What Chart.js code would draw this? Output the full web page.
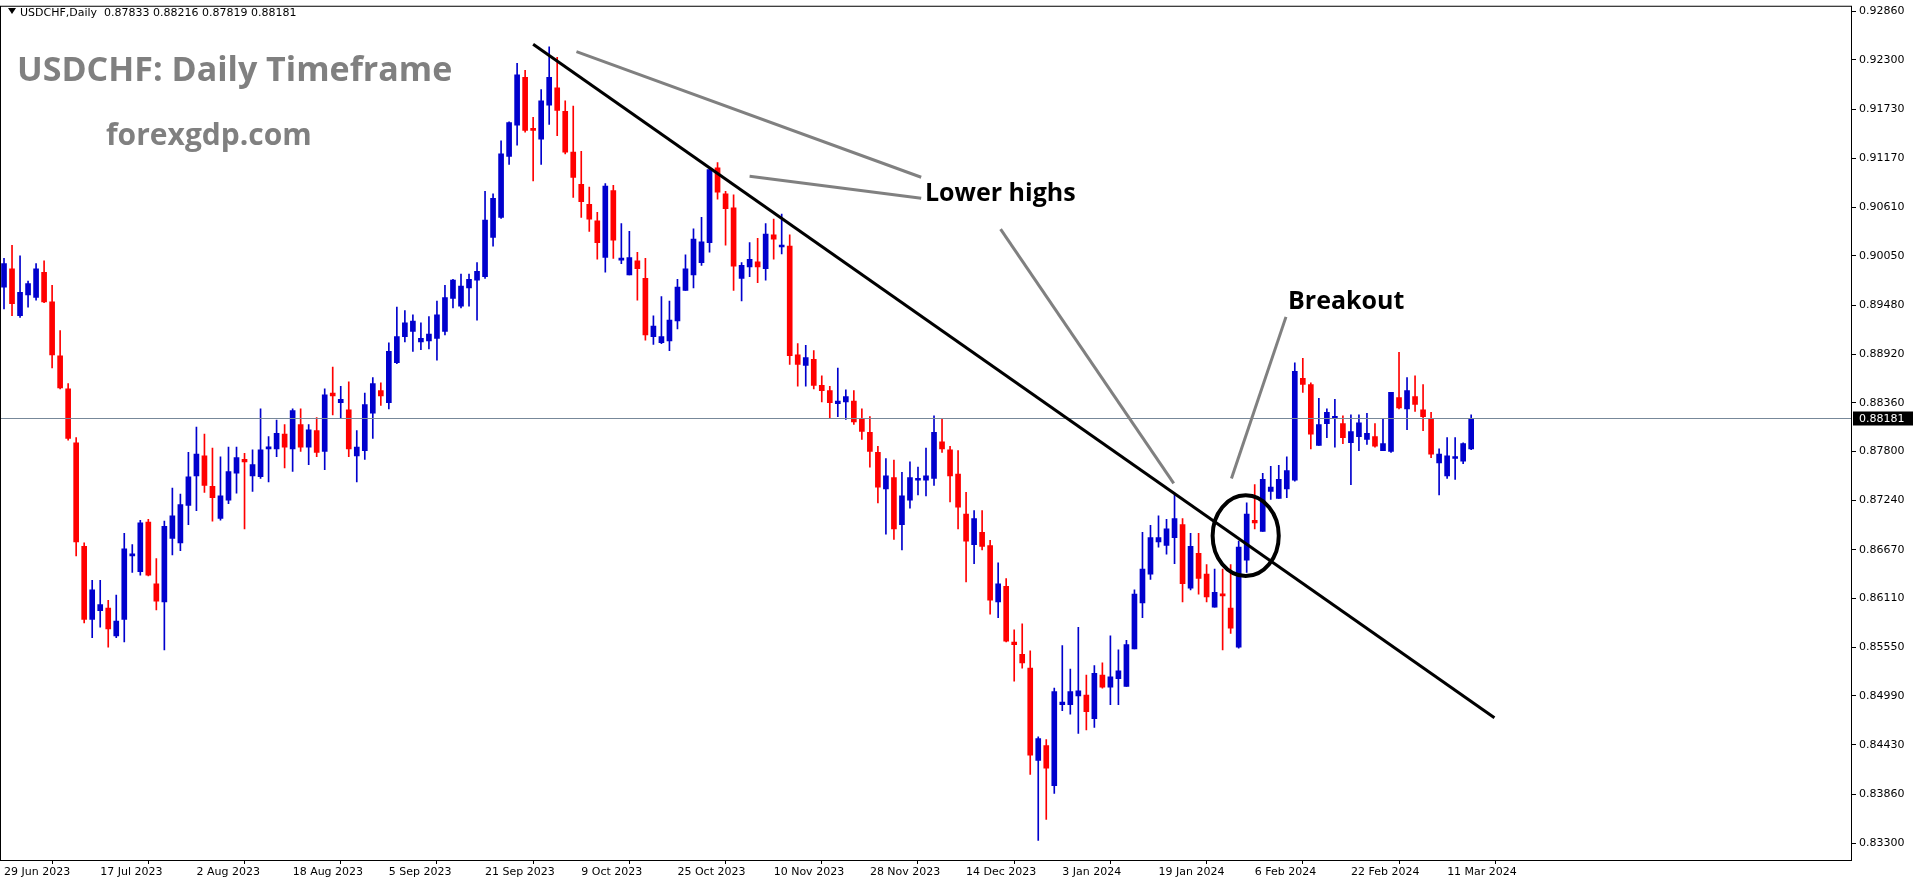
<!DOCTYPE html>
<html>
<head>
<meta charset="utf-8">
<script src="https://cdn.jsdelivr.net/npm/chart.js@4.4.0/dist/chart.umd.min.js"></script>
<style>
  html, body { margin: 0; padding: 0; background: #fff; }
  #wrap { width: 1916px; height: 884px; }
</style>
</head>
<body>
<div id="wrap"><canvas id="myChart" width="1916" height="884"></canvas></div>
<script>
// USDCHF daily candles, 29 Jun 2023 .. 13 Mar 2024
var opens = [
  0.8969,0.8990,0.8936,0.8960,0.8957,0.8986,0.8952,0.8890,0.8852,0.8790,0.8671,0.8587,
  0.8597,0.8600,0.8568,0.8587,0.8660,0.8642,0.8699,0.8628,0.8607,0.8680,0.8675,0.8718,
  0.8752,0.8775,0.8740,0.8703,0.8724,0.8755,0.8771,0.8752,0.8751,0.8783,0.8783,0.8800,
  0.8783,0.8811,0.8785,0.8804,0.8780,0.8847,0.8836,0.8828,0.8775,0.8781,0.8824,0.8850,
  0.8836,0.8882,0.8912,0.8918,0.8906,0.8907,0.8910,0.8918,0.8956,0.8947,0.8968,0.8977,
  0.8981,0.9026,0.9049,0.9119,0.9155,0.9210,0.9150,0.9139,0.9178,0.9198,0.9171,0.9124,
  0.9087,0.9064,0.9045,0.9003,0.9080,0.9000,0.8983,0.8999,0.8979,0.8912,0.8905,0.8907,
  0.8930,0.8965,0.8983,0.8997,0.9020,0.9106,0.9076,0.9060,0.8979,0.8992,0.8998,0.8990,
  0.9029,0.9015,0.9016,0.8891,0.8879,0.8886,0.8856,0.8850,0.8835,0.8837,0.8838,0.8817,
  0.8802,0.8779,0.8737,0.8750,0.8696,0.8724,0.8747,0.8747,0.8749,0.8791,0.8782,0.8754,
  0.8708,0.8673,0.8687,0.8672,0.8607,0.8625,0.8561,0.8547,0.8531,0.8425,0.8442,0.8396,
  0.8489,0.8489,0.8499,0.8500,0.8473,0.8523,0.8509,0.8519,0.8510,0.8553,0.8606,0.8639,
  0.8676,0.8672,0.8681,0.8696,0.8623,0.8663,0.8639,0.8601,0.8616,0.8600,0.8555,0.8655,
  0.8701,0.8688,0.8734,0.8726,0.8737,0.8747,0.8864,0.8857,0.8787,0.8812,0.8818,0.8812,
  0.8790,0.8797,0.8794,0.8797,0.8781,0.8780,0.8842,0.8829,0.8843,0.8828,0.8817,0.8767,
  0.8752,0.8772,0.8769,0.8783
];
var highs = [
  0.9002,0.9017,0.9005,0.8976,0.8996,0.8999,0.8971,0.8919,0.8858,0.8796,0.8675,0.8632,
  0.8632,0.8609,0.8615,0.8686,0.8673,0.8701,0.8702,0.8657,0.8700,0.8738,0.8731,0.8779,
  0.8808,0.8800,0.8784,0.8774,0.8785,0.8785,0.8778,0.8782,0.8829,0.8797,0.8816,0.8811,
  0.8829,0.8829,0.8811,0.8819,0.8852,0.8877,0.8855,0.8860,0.8804,0.8847,0.8865,0.8859,
  0.8905,0.8946,0.8942,0.8937,0.8928,0.8935,0.8953,0.8971,0.8978,0.8984,0.8984,0.8997,
  0.9079,0.9076,0.9137,0.9159,0.9226,0.9218,0.9164,0.9196,0.9245,0.9233,0.9183,0.9177,
  0.9125,0.9084,0.9055,0.9088,0.9086,0.9042,0.9033,0.9009,0.9002,0.8936,0.8958,0.8953,
  0.8978,0.9006,0.9036,0.9049,0.9106,0.9112,0.9079,0.9075,0.8997,0.9020,0.9025,0.9042,
  0.9047,0.9053,0.9029,0.8904,0.8902,0.8896,0.8867,0.8855,0.8876,0.8851,0.8850,0.8829,
  0.8820,0.8786,0.8772,0.8770,0.8756,0.8768,0.8762,0.8784,0.8821,0.8817,0.8786,0.8781,
  0.8733,0.8712,0.8712,0.8678,0.8652,0.8634,0.8575,0.8582,0.8551,0.8452,0.8449,0.8508,
  0.8557,0.8530,0.8578,0.8523,0.8534,0.8537,0.8568,0.8552,0.8563,0.8621,0.8687,0.8695,
  0.8706,0.8702,0.8730,0.8703,0.8686,0.8686,0.8650,0.8645,0.8645,0.8650,0.8677,0.8721,
  0.8742,0.8755,0.8763,0.8764,0.8774,0.8882,0.8887,0.8859,0.8841,0.8829,0.8840,0.8821,
  0.8822,0.8822,0.8824,0.8812,0.8817,0.8848,0.8894,0.8865,0.8867,0.8857,0.8825,0.8783,
  0.8796,0.8796,0.8790,0.8822
];
var lows = [
  0.8944,0.8936,0.8934,0.8946,0.8954,0.8951,0.8876,0.8852,0.8793,0.8660,0.8583,0.8566,
  0.8578,0.8555,0.8566,0.8561,0.8641,0.8638,0.8637,0.8598,0.8552,0.8661,0.8666,0.8696,
  0.8712,0.8733,0.8700,0.8701,0.8720,0.8732,0.8691,0.8734,0.8749,0.8745,0.8774,0.8761,
  0.8757,0.8780,0.8765,0.8774,0.8759,0.8822,0.8818,0.8774,0.8745,0.8771,0.8795,0.8833,
  0.8829,0.8881,0.8906,0.8895,0.8897,0.8898,0.8885,0.8914,0.8945,0.8945,0.8947,0.8931,
  0.8979,0.9016,0.9048,0.9110,0.9132,0.9147,0.9091,0.9110,0.9156,0.9143,0.9122,0.9072,
  0.9049,0.9033,0.9001,0.8986,0.9002,0.8996,0.8983,0.8954,0.8908,0.8903,0.8904,0.8896,
  0.8921,0.8965,0.8968,0.8994,0.9009,0.9070,0.9017,0.8965,0.8953,0.8981,0.8974,0.8977,
  0.9001,0.9007,0.8880,0.8855,0.8855,0.8852,0.8837,0.8819,0.8820,0.8817,0.8811,0.8794,
  0.8762,0.8721,0.8685,0.8679,0.8667,0.8715,0.8730,0.8729,0.8741,0.8779,0.8722,0.8691,
  0.8630,0.8651,0.8667,0.8593,0.8589,0.8561,0.8516,0.8531,0.8409,0.8333,0.8357,0.8387,
  0.8482,0.8478,0.8456,0.8460,0.8463,0.8508,0.8489,0.8489,0.8510,0.8553,0.8589,0.8633,
  0.8670,0.8662,0.8651,0.8607,0.8621,0.8616,0.8607,0.8601,0.8552,0.8571,0.8554,0.8641,
  0.8691,0.8688,0.8725,0.8726,0.8727,0.8746,0.8848,0.8783,0.8787,0.8796,0.8785,0.8789,
  0.8742,0.8781,0.8788,0.8785,0.8781,0.8779,0.8829,0.8805,0.8826,0.8804,0.8773,0.8730,
  0.8749,0.8748,0.8766,0.8782
];
var closes = [
  0.8996,0.8950,0.8963,0.8973,0.8990,0.8952,0.8891,0.8853,0.8795,0.8676,0.8587,0.8621,
  0.8604,0.8576,0.8585,0.8668,0.8661,0.8698,0.8638,0.8608,0.8694,0.8706,0.8719,0.8751,
  0.8777,0.8741,0.8727,0.8729,0.8757,0.8773,0.8768,0.8765,0.8782,0.8785,0.8801,0.8785,
  0.8827,0.8785,0.8805,0.8779,0.8845,0.8844,0.8840,0.8783,0.8785,0.8834,0.8858,0.8844,
  0.8895,0.8912,0.8928,0.8930,0.8910,0.8915,0.8937,0.8957,0.8977,0.8970,0.8978,0.8987,
  0.9046,0.9071,0.9122,0.9158,0.9213,0.9149,0.9149,0.9183,0.9210,0.9172,0.9124,0.9095,
  0.9067,0.9047,0.9020,0.9085,0.9023,0.9002,0.9003,0.8990,0.8914,0.8924,0.8912,0.8931,
  0.8969,0.8990,0.9024,0.9021,0.9104,0.9078,0.9059,0.8993,0.8994,0.9001,0.8992,0.9030,
  0.9024,0.9016,0.8890,0.8880,0.8888,0.8856,0.8850,0.8836,0.8838,0.8843,0.8814,0.8803,
  0.8780,0.8739,0.8752,0.8691,0.8729,0.8750,0.8748,0.8752,0.8802,0.8783,0.8752,0.8716,
  0.8677,0.8703,0.8671,0.8609,0.8628,0.8562,0.8558,0.8537,0.8431,0.8450,0.8416,0.8504,
  0.8492,0.8504,0.8505,0.8481,0.8525,0.8509,0.8521,0.8528,0.8558,0.8616,0.8645,0.8681,
  0.8681,0.8691,0.8703,0.8628,0.8671,0.8634,0.8613,0.8618,0.8614,0.8577,0.8670,0.8708,
  0.8698,0.8748,0.8739,0.8748,0.8758,0.8872,0.8857,0.8800,0.8811,0.8825,0.8819,0.8796,
  0.8803,0.8813,0.8801,0.8786,0.8789,0.8848,0.8830,0.8850,0.8834,0.8820,0.8777,0.8777,
  0.8775,0.8773,0.8789,0.88181
];

// one tick label every 12 bars, starting at the first bar
var dateTicks = ['29 Jun 2023','17 Jul 2023','2 Aug 2023','18 Aug 2023','5 Sep 2023','21 Sep 2023',
  '9 Oct 2023','25 Oct 2023','10 Nov 2023','28 Nov 2023','14 Dec 2023','3 Jan 2024','19 Jan 2024',
  '6 Feb 2024','22 Feb 2024','11 Mar 2024'];
var priceTicks = [0.92860,0.92300,0.91730,0.91170,0.90610,0.90050,0.89480,0.88920,0.88360,
  0.87800,0.87240,0.86670,0.86110,0.85550,0.84990,0.84430,0.83860,0.83300];

var lastPrice = 0.88181;
var header = 'USDCHF,Daily  0.87833 0.88216 0.87819 0.88181';

// drawn lines, in [bar index, price]
var trendLine = [[66, 0.92481], [185.9, 0.84740]];
var pointerLines = [
  [[71.4, 0.92396], [114.4, 0.90952]],
  [[93.0, 0.90963], [114.4, 0.90711]],
  [[124.3, 0.90356], [145.9, 0.87433]],
  [[159.9, 0.89347], [153.1, 0.87490]]
];
var breakoutCircle = [[150.75, 0.87296], [159.0, 0.86368]];

var slots = 231;
var categories = [];
for (var i = 0; i < slots; i++) categories.push(i);

var BLUE = '#0000CD', RED = '#FF0000';
var candleColors = closes.map(function (c, i) { return c >= opens[i] ? BLUE : RED; });

var annotations = {
  id: 'annotations',
  afterDatasetsDraw: function (chart) {
    var c = chart.ctx, x = chart.scales.x, y = chart.scales.y, a = chart.chartArea;
    function px(p) { return [x.getPixelForValue(p[0]), y.getPixelForValue(p[1])]; }
    function seg(p, q, color, w) {
      var s = px(p), e = px(q);
      c.save(); c.strokeStyle = color; c.lineWidth = w;
      c.beginPath(); c.moveTo(s[0], s[1]); c.lineTo(e[0], e[1]); c.stroke(); c.restore();
    }
    // current price line
    var ly = Math.round(y.getPixelForValue(lastPrice)) + 0.5;
    c.save(); c.strokeStyle = '#778899'; c.lineWidth = 1;
    c.beginPath(); c.moveTo(a.left, ly); c.lineTo(a.right, ly); c.stroke(); c.restore();

    c.save();
    c.beginPath(); c.rect(a.left, a.top, a.right - a.left, a.bottom - a.top); c.clip();
    pointerLines.forEach(function (l) { seg(l[0], l[1], '#808080', 3); });
    seg(trendLine[0], trendLine[1], '#000000', 3);
    var p1 = px(breakoutCircle[0]), p2 = px(breakoutCircle[1]);
    c.strokeStyle = '#000'; c.lineWidth = 4;
    c.beginPath();
    c.ellipse((p1[0] + p2[0]) / 2, (p1[1] + p2[1]) / 2, Math.abs(p2[0] - p1[0]) / 2, Math.abs(p2[1] - p1[1]) / 2, 0, 0, Math.PI * 2);
    c.stroke();
    c.restore();

    // texts
    c.save();
    c.fillStyle = '#808080'; c.textBaseline = 'alphabetic';
    c.font = 'bold 34px "Open Sans"';
    c.fillText('USDCHF: Daily Timeframe', 17, 81);
    c.font = 'bold 30px "Open Sans"';
    c.fillText('forexgdp.com', 106, 145);
    c.fillStyle = '#000';
    c.font = 'bold 25px "Open Sans"';
    c.fillText('Lower highs', 925, 201);
    c.fillText('Breakout', 1288, 309);
    c.font = '11px "DejaVu Sans"';
    c.fillText(header, 20, 16);
    c.beginPath(); c.moveTo(8, 8); c.lineTo(16, 8); c.lineTo(12, 14); c.closePath(); c.fill();
    c.restore();

    // frame
    c.save(); c.strokeStyle = '#000'; c.lineWidth = 1;
    c.strokeRect(a.left + 0.5, a.top + 0.5, a.right - a.left - 1, a.bottom - a.top);
    // last price box
    c.fillStyle = '#000'; c.fillRect(a.right + 1, ly - 7, 60, 14);
    c.fillStyle = '#fff'; c.font = '11px "DejaVu Sans"'; c.textBaseline = 'middle';
    c.fillText(lastPrice.toFixed(5), a.right + 7, ly + 1);
    c.restore();
  }
};

var ctx = document.getElementById('myChart');
var chart = new Chart(ctx, {
  type: 'bar',
  data: {
    labels: categories,
    datasets: [{
      // wicks
      data: lows.map(function (l, i) { return [l, highs[i]]; }),
      backgroundColor: candleColors,
      barThickness: 1,
      grouped: false,
      order: 2
    }, {
      // bodies
      data: opens.map(function (o, i) { return [o, closes[i]]; }),
      backgroundColor: candleColors,
      barThickness: 5,
      minBarLength: 2,
      grouped: false,
      order: 1
    }]
  },
  options: {
    responsive: false,
    animation: false,
    layout: { padding: { top: 0, left: 0, right: 0, bottom: 0 } },
    plugins: { legend: { display: false }, tooltip: { enabled: false } },
    scales: {
      x: {
        offset: true,
        border: { display: false },
        grid: { drawOnChartArea: false, drawTicks: true, tickLength: 4, color: '#000' },
        ticks: {
          autoSkip: false, maxRotation: 0, align: 'start', padding: 2,
          color: '#000', font: { family: 'DejaVu Sans', size: 11 },
          callback: function (v, idx) { return idx % 12 === 0 && dateTicks[idx / 12] ? dateTicks[idx / 12] : null; }
        },
        afterFit: function (s) { s.height = 24; }
      },
      y: {
        position: 'right',
        min: 0.83105, max: 0.92923,
        border: { display: false },
        grid: { drawOnChartArea: false, drawTicks: true, tickLength: 4, color: '#000' },
        afterBuildTicks: function (s) { s.ticks = priceTicks.map(function (v) { return { value: v }; }); },
        ticks: {
          padding: 3, color: '#000', font: { family: 'DejaVu Sans', size: 11, lineHeight: 0.5 },
          callback: function (v) { return v.toFixed(5); }
        },
        afterFit: function (s) { s.width = 64; }
      }
    }
  },
  plugins: [annotations]
});
</script>
</body>
</html>
